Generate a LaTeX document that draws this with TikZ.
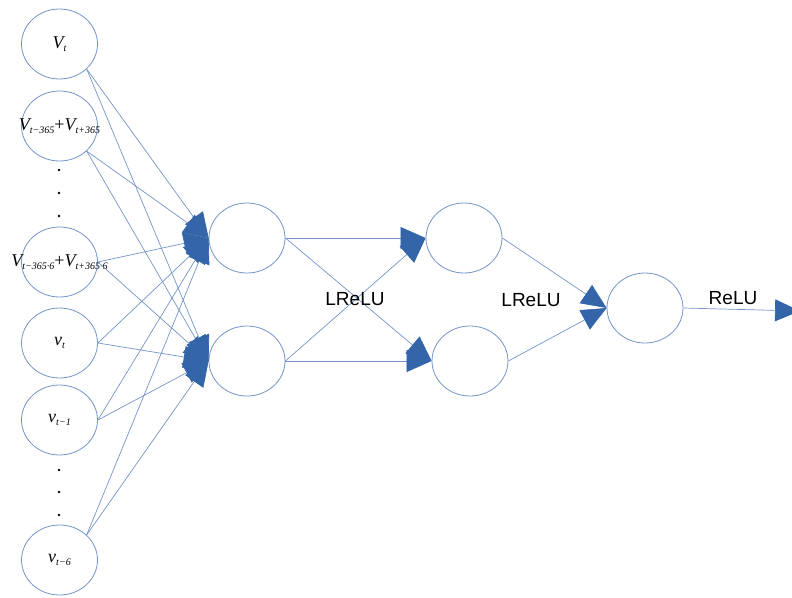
\documentclass[tikz,border=0pt]{standalone}
\usepackage{fontspec}
\setmainfont{Liberation Serif}
\newfontfamily\labelfont{Liberation Sans}
\usetikzlibrary{arrows.meta,shapes.geometric}
\definecolor{edgeblue}{RGB}{116,148,201}
\definecolor{tipblue}{RGB}{52,101,168}
% symbols for the input variables
\newcommand{\lowsub}[1]{\raisebox{-0.6ex}{\fontsize{10}{10}\selectfont\itshape #1}}
\newcommand{\bigV}{{\fontsize{18}{18}\selectfont\itshape V}}
\newcommand{\smallv}{{\fontsize{18}{18}\selectfont\itshape v}}
\newcommand{\plussign}{{\fontsize{18}{18}\selectfont +}}
\begin{document}
\begin{tikzpicture}[x=1pt,y=-1pt,
  neuron/.style={ellipse,draw=edgeblue,line width=0.8pt,minimum width=76pt,
    minimum height=70pt,inner sep=0pt},
  link/.style={draw=edgeblue,line width=0.7pt,
    -{Triangle[length=25pt,width=22pt,color=tipblue]}},
  act/.style={font=\labelfont\fontsize{19}{19}\selectfont},
  dotmark/.style={circle,fill=black,inner sep=0pt,minimum size=2.6pt}]
\useasboundingbox (0,0) rectangle (792,597);

% input layer
\node[neuron] (i1) at (59.5,44) {\makebox[0pt]{\bigV\lowsub{t}}};
\node[neuron] (i2) at (59.5,126) {\makebox[0pt]{\bigV\lowsub{t−365}\plussign\bigV\lowsub{t+365}}};
\node[neuron] (i3) at (59.5,262) {\makebox[0pt]{\bigV\lowsub{t−365·6}\plussign\bigV\lowsub{t+365·6}}};
\node[neuron] (i4) at (59.5,343) {\makebox[0pt]{\smallv\lowsub{t}}};
\node[neuron] (i5) at (59.5,420) {\makebox[0pt]{\smallv\lowsub{t−1}}};
\node[neuron] (i6) at (59.5,560) {\makebox[0pt]{\smallv\lowsub{t−6}}};

\node[dotmark] (d1) at (59,170) {};
\node[dotmark] (d2) at (59,193) {};
\node[dotmark] (d3) at (59,216) {};
\node[dotmark] (d4) at (59,470) {};
\node[dotmark] (d5) at (59,492) {};
\node[dotmark] (d6) at (59,515) {};

% hidden layers and output
\node[neuron] (h1) at (247,238) {};
\node[neuron] (h2) at (247,361) {};
\node[neuron] (g1) at (464,238) {};
\node[neuron] (g2) at (470,361) {};
\node[neuron] (o) at (645,308) {};
\coordinate (out) at (800,311);

% input -> first hidden layer
\foreach \s/\a in {i1/south east,i2/south east,i3/east,i4/east,i5/east,i6/north east}{
  \draw[link] (\s.\a) -- (h1.west);
  \draw[link] (\s.\a) -- (h2.west);
}

% first -> second hidden layer
\draw[link] (h1.east) -- (g1.west);
\draw[link] (h1.east) -- (g2.west);
\draw[link] (h2.east) -- (g1.west);
\draw[link] (h2.east) -- (g2.west);

% second hidden layer -> output
\draw[link] (g1.east) -- (o.west);
\draw[link] (g2.east) -- (o.west);
\draw[link] (o.east) -- (out);

% activation labels
\node[act] (a1) at (355,299) {LReLU};
\node[act] (a2) at (531,300) {LReLU};
\node[act] (a3) at (733,298) {ReLU};
\end{tikzpicture}
\end{document}
